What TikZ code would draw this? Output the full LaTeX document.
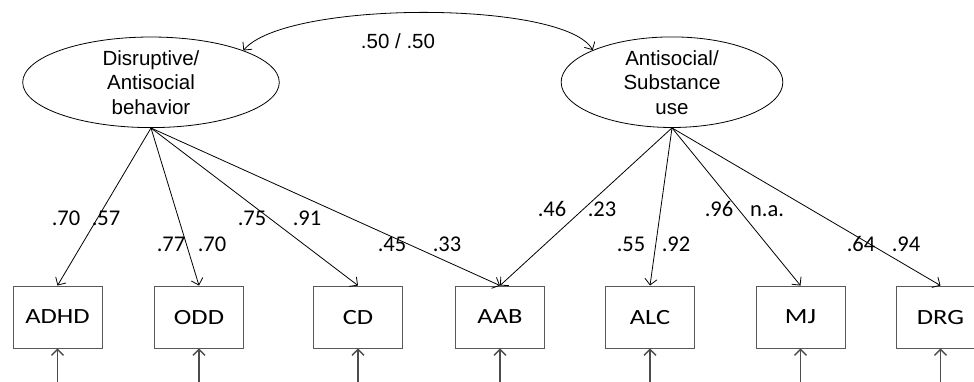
\documentclass[tikz,border=0pt]{standalone}
\usepackage{fontspec}
\usetikzlibrary{shapes.geometric,arrows.meta}
\newfontfamily\ellfont{Liberation Sans}
\newfontfamily\labfont{Carlito}
\newfontfamily\boxfont[FakeStretch=1.22]{Carlito}
\begin{document}
\begin{tikzpicture}[x=1pt,y=-1pt,
  lat/.style={ellipse,draw,line width=0.8pt,inner sep=0pt,align=center,font=\ellfont\fontsize{20.5}{24.5}\selectfont},
  obs/.style={rectangle,draw=black!65,line width=0.9pt,minimum width=89pt,minimum height=62pt,inner sep=0pt,text depth=0pt,font=\boxfont\fontsize{21.7}{24}\selectfont},
  lab/.style={anchor=base,inner sep=0pt,font=\labfont\fontsize{22.5}{26}\selectfont},
  corr/.style={anchor=base,inner sep=0pt,font=\ellfont\fontsize{20.5}{24}\selectfont},
  load/.style={-{Straight Barb[length=6pt,width=12pt]},line width=0.8pt},
  cov/.style={{Straight Barb[length=6pt,width=12pt]}-{Straight Barb[length=6pt,width=12pt]},line width=0.8pt},
  resid/.style={-{Straight Barb[length=6pt,width=12pt]},line width=1.4pt,black!70},
]
\useasboundingbox (0,0) rectangle (974,381);
\clip (0,0) rectangle (974,381);
% latent factors
\node[lat,minimum width=256.6pt,minimum height=90pt] (L) at (151,82.3) {Disruptive/\\Antisocial\\behavior};
\node[lat,minimum width=221.7pt,minimum height=89pt] (R) at (672,82.2) {Antisocial/\\Substance\\use};
% observed indicators
\node[obs] (ADHD) at (57.5,317) {ADHD};
\node[obs] (ODD)  at (199,317)  {ODD};
\node[obs] (CD)   at (358,317)  {CD};
\node[obs] (AAB)  at (500,317)  {AAB};
\node[obs] (ALC)  at (650,317)  {ALC};
\node[obs] (MJ)   at (800.5,317) {MJ};
\node[obs] (DRG)  at (940.5,317) {DRG};
% covariance
\draw[cov] (L.19) .. controls (285,0) and (565,0) .. (R.158);
\node[corr] (r) at (398,48) {.50 / .50};
% loadings
\draw[load] (L.south) -- (ADHD.north);
\draw[load] (L.south) -- (ODD.north);
\draw[load] (L.south) -- (CD.north);
\draw[load] (L.south) -- (AAB.north);
\draw[load] (R.south) -- (AAB.north);
\draw[load] (R.south) -- (ALC.north);
\draw[load] (R.south) -- (MJ.north);
\draw[load] (R.south) -- (DRG.north);
% loading labels
\node[lab] (l1) at (66,225) {.70};
\node[lab] (l2) at (106,225) {.57};
\node[lab] (l3) at (171,251.5) {.77};
\node[lab] (l4) at (212,251.5) {.70};
\node[lab] (l5) at (252,225) {.75};
\node[lab] (l6) at (307,225) {.91};
\node[lab] (l7) at (392,251.5) {.45};
\node[lab] (l8) at (447,251.5) {.33};
\node[lab] (l9) at (552,216.5) {.46};
\node[lab] (l10) at (602,216.5) {.23};
\node[lab] (l11) at (631,251.5) {.55};
\node[lab] (l12) at (676,251.5) {.92};
\node[lab] (l13) at (719,216.5) {.96};
\node[lab] (l14) at (767,216.5) {n.a.};
\node[lab] (l15) at (861,251.5) {.64};
\node[lab] (l16) at (906,251.5) {.94};
% residual arrows
\coordinate (e1) at (57.5,390);
\coordinate (e2) at (199,390);
\coordinate (e3) at (358,390);
\coordinate (e4) at (500,390);
\coordinate (e5) at (650,390);
\coordinate (e6) at (800.5,390);
\coordinate (e7) at (940.5,390);
\draw[resid] (e1) -- (ADHD.south);
\draw[resid] (e2) -- (ODD.south);
\draw[resid] (e3) -- (CD.south);
\draw[resid] (e4) -- (AAB.south);
\draw[resid] (e5) -- (ALC.south);
\draw[resid] (e6) -- (MJ.south);
\draw[resid] (e7) -- (DRG.south);
\end{tikzpicture}
\end{document}
